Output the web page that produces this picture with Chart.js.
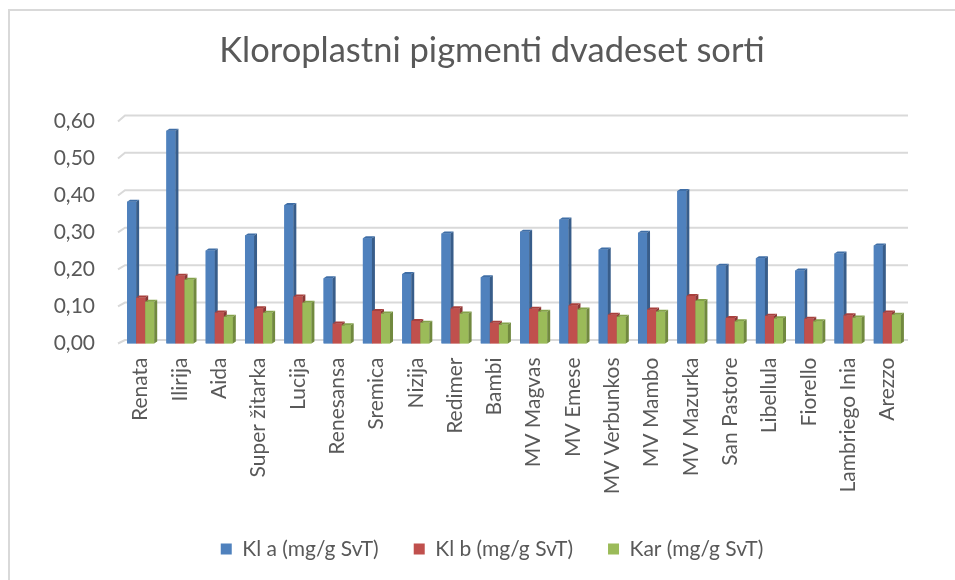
<!DOCTYPE html>
<html>
<head>
<meta charset="utf-8">
<script src="https://cdn.jsdelivr.net/npm/chart.js@4.4.0/dist/chart.umd.min.js"></script>
<style>
  html, body { margin: 0; padding: 0; background: #fff; overflow: hidden; }
  #okvir {
    position: absolute; left: 8px; top: 9px;
    width: 964px; height: 600px;
    border-left: 2px solid #d9d9d9; border-top: 2px solid #d9d9d9;
  }
  canvas { display: block; }
</style>
</head>
<body>
<div id="okvir"><canvas id="grafik" width="964" height="600"></canvas></div>
<script>
/* ============================================================
   PODACI
============================================================ */
const sorte = [
  "Renata", "Ilirija", "Aida", "Super žitarka", "Lucija", "Renesansa",
  "Sremica", "Nizija", "Redimer", "Bambi", "MV Magvas", "MV Emese",
  "MV Verbunkos", "MV Mambo", "MV Mazurka", "San Pastore", "Libellula",
  "Fiorello", "Lambriego Inia", "Arezzo",
];

const klA = [0.383, 0.575, 0.251, 0.292, 0.374, 0.176, 0.284, 0.188, 0.297, 0.179,
  0.302, 0.335, 0.254, 0.299, 0.412, 0.210, 0.230, 0.197, 0.243, 0.265];
const klB = [0.124, 0.183, 0.084, 0.095, 0.127, 0.054, 0.088, 0.061, 0.095, 0.056,
  0.094, 0.103, 0.078, 0.092, 0.128, 0.069, 0.075, 0.067, 0.076, 0.084];
const kar = [0.113, 0.172, 0.072, 0.083, 0.110, 0.049, 0.081, 0.056, 0.081, 0.051,
  0.086, 0.092, 0.072, 0.086, 0.115, 0.060, 0.068, 0.060, 0.070, 0.078];

const nazivi = ["Kl a (mg/g SvT)", "Kl b (mg/g SvT)", "Kar (mg/g SvT)"];
const yTicks = [0, 0.1, 0.2, 0.3, 0.4, 0.5, 0.6];

const boje = ["#4f81bd", "#c0504d", "#9bbb59"];
const bojeStrana = ["#385d8a", "#8c3836", "#71893f"];
const bojeVrh = ["#3f6ea6", "#a8403d", "#84a24a"];

const sivo = "#595959";
const font = "Lato";

/* ============================================================
   3D LINIJE MREZE (zadnji zid)
============================================================ */
const mreza3d = {
  id: "mreza3d",
  beforeDatasetsDraw(chart) {
    const { ctx, chartArea, scales } = chart;
    ctx.save();
    ctx.strokeStyle = "#d9d9d9";
    ctx.lineWidth = 2;
    yTicks.forEach((v) => {
      const yf = scales.y.getPixelForValue(v);
      const yb = yf - 3.5 - (v / 0.6) * 2.5;
      ctx.beginPath();
      ctx.moveTo(chartArea.left - 3, yf);
      ctx.lineTo(chartArea.left + 4, yb);
      ctx.lineTo(chartArea.right + 1, yb);
      ctx.stroke();
    });
    ctx.restore();
  },
};

/* ============================================================
   3D STUPCI (bocna strana + vrh)
============================================================ */
const stupci3d = {
  id: "stupci3d",
  afterDatasetsDraw(chart) {
    const { ctx } = chart;
    const dx = 3, dy = 2;
    const metas = [0, 1, 2].map((i) => chart.getDatasetMeta(i));
    ctx.save();
    sorte.forEach((_, j) => {
      metas.forEach((meta, i) => {
        const bar = meta.data[j];
        if (!bar) return;
        const { x, y, base, width } = bar.getProps(["x", "y", "base", "width"], true);
        const l = x - width / 2, r = x + width / 2;
        ctx.fillStyle = boje[i];
        ctx.fillRect(l, y, width, base - y);
        ctx.fillStyle = bojeStrana[i];
        ctx.beginPath();
        ctx.moveTo(r, y);
        ctx.lineTo(r + dx, y - dy);
        ctx.lineTo(r + dx, base - dy);
        ctx.lineTo(r, base);
        ctx.closePath();
        ctx.fill();
        ctx.fillStyle = bojeVrh[i];
        ctx.beginPath();
        ctx.moveTo(l, y);
        ctx.lineTo(l + dx, y - dy);
        ctx.lineTo(r + dx, y - dy);
        ctx.lineTo(r, y);
        ctx.closePath();
        ctx.fill();
      });
    });
    ctx.restore();
  },
};

/* ============================================================
   GRAFIKON
============================================================ */
new Chart(document.getElementById("grafik"), {
  type: "bar",
  data: {
    labels: sorte,
    datasets: [klA, klB, kar].map((d, i) => ({
      label: nazivi[i],
      data: d,
      backgroundColor: boje[i],
      borderWidth: 0,
      categoryPercentage: 0.69,
      barPercentage: 1,
    })),
  },
  options: {
    responsive: false,
    animation: false,
    events: [],
    layout: { padding: { left: 0, right: 0, top: 0, bottom: 41.5 } },
    plugins: {
      tooltip: { enabled: false },
      title: {
        display: true,
        text: "Kloroplastni pigmenti dvadeset sorti",
        color: sivo,
        font: { family: font, size: 34.5, weight: "normal" },
        padding: { top: 19, bottom: 50 },
      },
      legend: {
        position: "bottom",
        labels: {
          color: sivo,
          font: { family: font, size: 21 },
          boxWidth: 11,
          boxHeight: 11,
          padding: 35,
        },
      },
    },
    scales: {
      x: {
        grid: { display: false },
        border: { display: false },
        ticks: {
          color: sivo,
          font: { family: font, size: 21 },
          minRotation: 90,
          maxRotation: 90,
          autoSkip: false,
          padding: 6,
        },
        afterFit: (s) => { s.height = 160; },
      },
      y: {
        min: 0,
        max: 0.6,
        grid: { display: false, drawTicks: false },
        border: { display: false },
        ticks: {
          stepSize: 0.1,
          color: sivo,
          font: { family: font, size: 21 },
          padding: 26,
          callback: (v) => Number(v).toFixed(2).replace(".", ","),
        },
        afterFit: (s) => { s.width = 111; },
      },
      desno: {
        type: "linear",
        position: "right",
        grid: { display: false, drawTicks: false },
        border: { display: false },
        ticks: { display: false },
        afterFit: (s) => { s.width = 67; },
      },
    },
  },
  plugins: [mreza3d, stupci3d],
});
</script>
</body>
</html>
